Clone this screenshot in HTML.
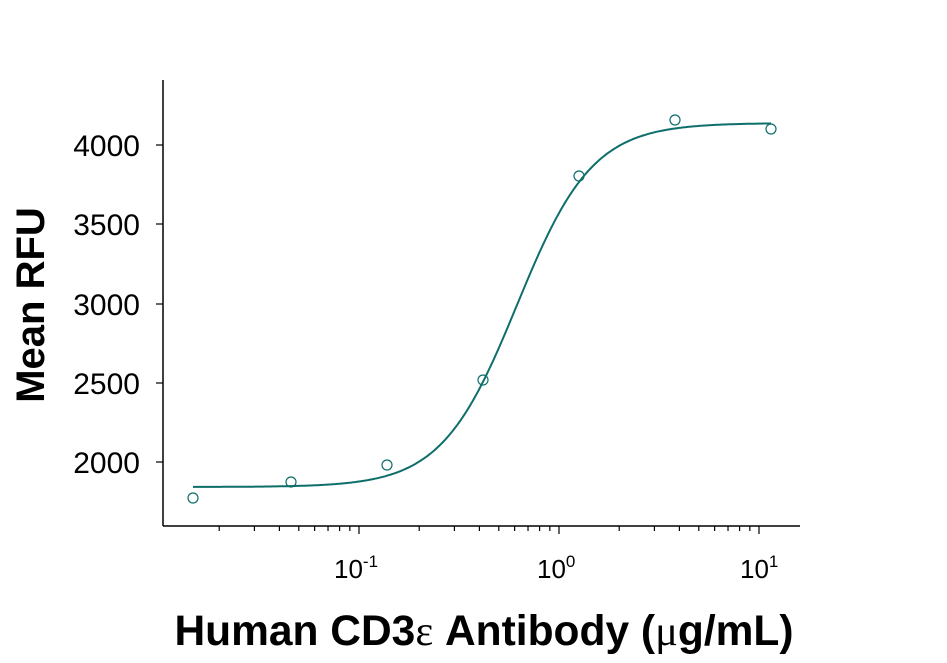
<!DOCTYPE html>
<html><head><style>
body{margin:0;background:#fff;}
svg text{font-family:"Liberation Sans",Arial,sans-serif;}
</style></head><body>
<svg id="s" width="947" height="658" xmlns="http://www.w3.org/2000/svg">
<g stroke="#000" stroke-width="1.5" fill="none">
<line x1="163" y1="80" x2="163" y2="526"/>
<line x1="163" y1="526" x2="800" y2="526"/>
</g>
<g id="ticks" stroke="#000" stroke-width="1.2"></g>
<g font-size="30" text-anchor="end" fill="#000">
<text x="140" y="473">2000</text>
<text x="140" y="394">2500</text>
<text x="140" y="315">3000</text>
<text x="140" y="235">3500</text>
<text x="140" y="156">4000</text>
</g>
<g font-size="26" fill="#000">
<text x="334" y="578">10<tspan font-size="17" dy="-11">-1</tspan></text>
<text x="537" y="578">10<tspan font-size="17" dy="-11">0</tspan></text>
<text x="740" y="578">10<tspan font-size="17" dy="-11">1</tspan></text>
</g>
<text x="484" y="645" font-size="42.5" font-weight="bold" text-anchor="middle">Human CD3<tspan font-family="Liberation Serif" font-weight="normal">ε</tspan> Antibody (<tspan font-family="Liberation Serif" font-weight="normal">μ</tspan>g/mL)</text>
<text transform="translate(44,305) rotate(-90)" font-size="40" font-weight="bold" text-anchor="middle">Mean RFU</text>
<path id="curve" fill="none" stroke="#0e6e6a" stroke-width="2"/>
<g id="pts" fill="none" stroke="#0e6e6a" stroke-width="1.2"></g>
</svg>
<script>
var NS="http://www.w3.org/2000/svg";
var t=document.getElementById("ticks");
function ln(g,a,b,c,d){var l=document.createElementNS(NS,"line");l.setAttribute("x1",a);l.setAttribute("y1",b);l.setAttribute("x2",c);l.setAttribute("y2",d);g.appendChild(l);}
[462,383,304,224,145].forEach(function(y){ln(t,163,y,156,y);});
for(var dec=-2;dec<=1;dec++){for(var m=1;m<10;m++){var x=359+200*(dec+1)+200*Math.log10(m);if(x<165||x>800)continue;ln(t,x,526,x,m==1?534:531);}}
var d="";for(var x=193;x<=772;x+=2){var tt=(x-517)/200;var y=487-364/(1+Math.pow(10,-2.3*tt));d+=(x==193?"M":"L")+x+","+y.toFixed(1);}
document.getElementById("curve").setAttribute("d",d);
var p=document.getElementById("pts");
[[193,498],[291,482],[387,465],[483,380],[579,176],[675,120],[771,129]].forEach(function(q){var c=document.createElementNS(NS,"circle");c.setAttribute("cx",q[0]);c.setAttribute("cy",q[1]);c.setAttribute("r",5);p.appendChild(c);});
</script>
</body></html>
